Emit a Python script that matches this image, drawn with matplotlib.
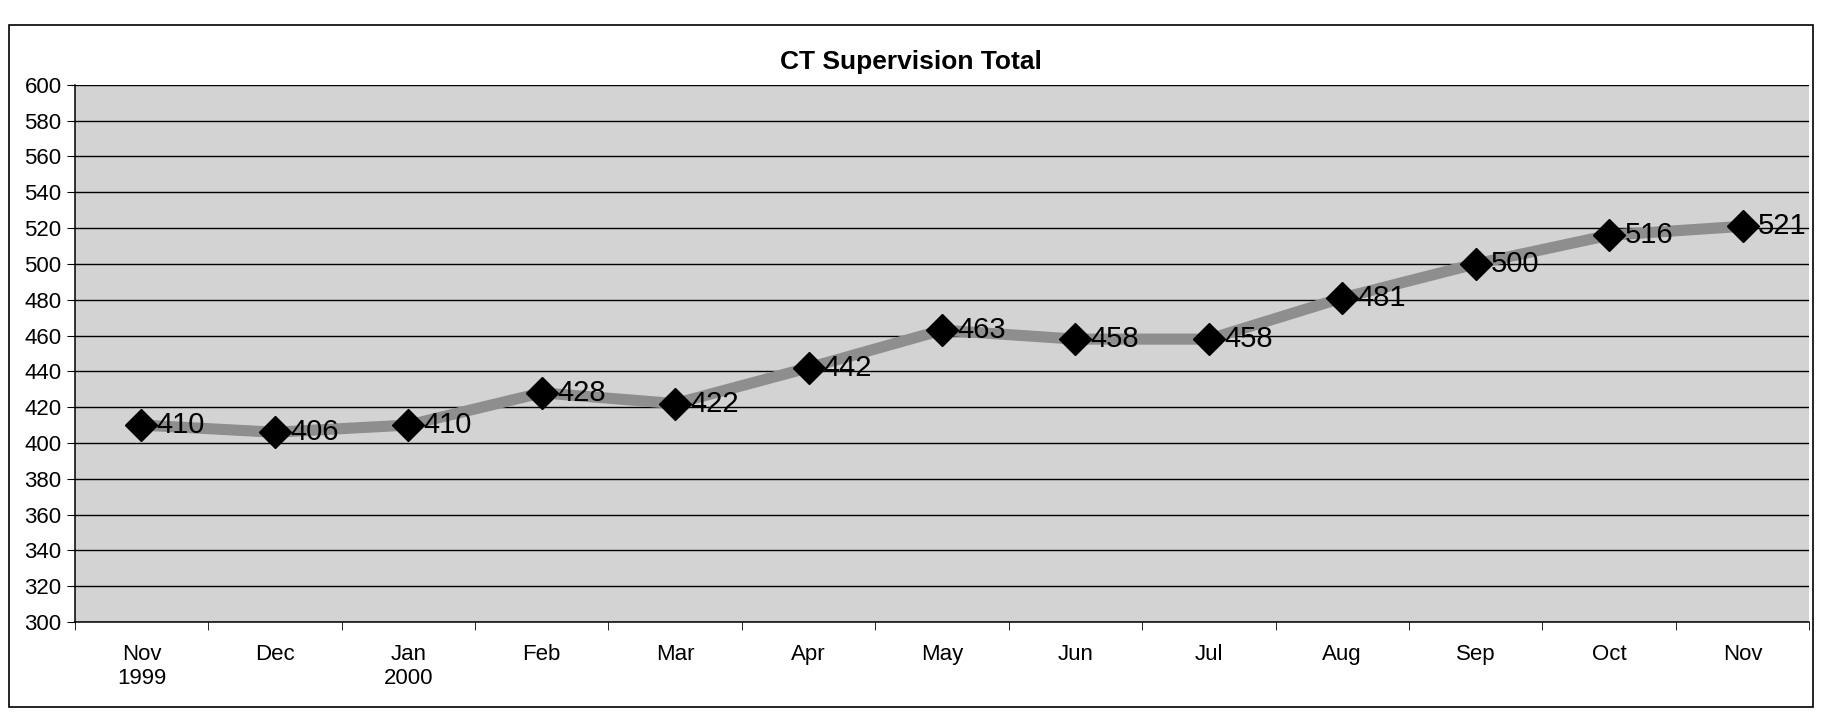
import matplotlib.pyplot as plt
from matplotlib.patches import Rectangle
import numpy as np

plt.rcParams['font.family'] = ['Liberation Sans', 'DejaVu Sans']

# data
months = ["Nov\n1999", "Dec", "Jan\n2000", "Feb", "Mar", "Apr", "May",
          "Jun", "Jul", "Aug", "Sep", "Oct", "Nov"]
totals = [410, 406, 410, 428, 422, 442, 463, 458, 458, 481, 500, 516, 521]
y_ticks = list(range(300, 601, 20))

fig = plt.figure(figsize=(18.22, 7.25), dpi=100)
ax = fig.add_axes([0.041, 0.142, 0.952, 0.741])

# outer chart frame
fig.patches.append(Rectangle((0.005, 0.025), 0.99, 0.94, transform=fig.transFigure,
                             fill=False, edgecolor='black', linewidth=1.2))

x = np.arange(len(months))
ax.set_facecolor('#d3d3d3')
ax.plot(x, totals, color='#8e8e8e', linewidth=8, zorder=3)
ax.plot(x, totals, linestyle='none', marker='D', markersize=16,
        color='black', zorder=4)

for xi, v in zip(x, totals):
    ax.annotate(str(v), (xi, v), xytext=(11, 0), textcoords='offset points',
                va='center', ha='left', fontsize=21, zorder=5)

ax.set_xlim(-0.5, len(months) - 0.5)
ax.set_ylim(300, 600)
ax.set_yticks(y_ticks)
ax.tick_params(axis='y', labelsize=16, length=6, direction='out')
ax.yaxis.grid(True, color='black', linewidth=1.0)
ax.set_axisbelow(True)

ax.set_xticks(x)
ax.set_xticklabels(months, fontsize=16)
ax.tick_params(axis='x', length=0, pad=16)
ax.set_xticks(np.arange(-0.5, len(months), 1), minor=True)
ax.tick_params(axis='x', which='minor', length=6, direction='out')

for s in ['top', 'right']:
    ax.spines[s].set_visible(False)
ax.spines['left'].set_linewidth(1.1)
ax.spines['bottom'].set_linewidth(1.1)

fig.text(0.5, 0.915, "CT Supervision Total", ha='center', va='center',
         fontsize=19, fontweight='bold')

fig.savefig('out.png', dpi=100)
